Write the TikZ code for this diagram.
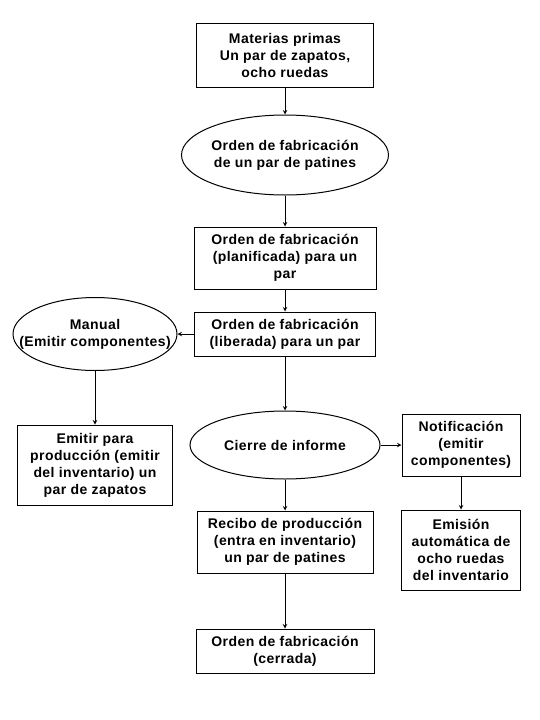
\documentclass[tikz,border=0pt]{standalone}
\usepackage{fontspec}
\setmainfont{Liberation Sans}[LetterSpace=3]
\usetikzlibrary{shapes.geometric}

\begin{document}
\begin{tikzpicture}
[x=1pt,y=-1pt,
  darkArrow/.style={->,>=stealth,line width=1pt},%
  boxDecorate/.style={shape=rectangle,draw,line width=1pt,align=center,inner sep=0pt},%
  ellDecorate/.style={shape=ellipse,draw,line width=1pt,inner sep=0pt},%
  font=\fontsize{14}{17}\selectfont\bfseries]
\useasboundingbox (0,0) rectangle (540,720);
%% boxes
\foreach \nodename/\x/\y/\w/\h/\txt in {
  mat/285/55/177/64/{Materias primas\\Un par de zapatos,\\ocho ruedas},
  pla/285/258/182/62/{Orden de fabricación\\(planificada) para un\\par},
  lib/285/334/181/44/{Orden de fabricación\\(liberada) para un par},
  emi/95/465/155/80/{Emitir para\\producción (emitir\\del inventario) un\\par de zapatos},
  not/461/445/118/62/{Notificación\\(emitir\\componentes)},
  aut/461/550/119/80/{Emisión\\automática de\\ocho ruedas\\del inventario},
  rec/285/542/176/62/{Recibo de producción\\(entra en inventario)\\un par de patines},
  cer/285/651/178/44/{Orden de fabricación\\(cerrada)}}
{
  \node (\nodename) at (\x,\y) [boxDecorate,minimum width=\w pt,minimum height=\h pt] {\txt};
}
%% ellipses
\foreach \nodename/\x/\y/\w/\h/\txt in {
  ofp/285/155/207/80/{Orden de fabricación\\de un par de patines},
  man/95/334/164/73/{Manual\\(Emitir componentes)},
  cie/285/445/190/68/{Cierre de informe}}
{
  \node (\nodename) at (\x,\y) [ellDecorate,minimum width=\w pt,minimum height=\h pt,
    label={[align=center]center:\txt}] {};
}
%% arrows
\path
\foreach \startnode/\endnode in {mat/ofp, ofp/pla, pla/lib, lib/man, man/emi,
  lib/cie, cie/not, not/aut, cie/rec, rec/cer}
{
  (\startnode) edge[darkArrow] (\endnode)
};
\end{tikzpicture}
\end{document}
